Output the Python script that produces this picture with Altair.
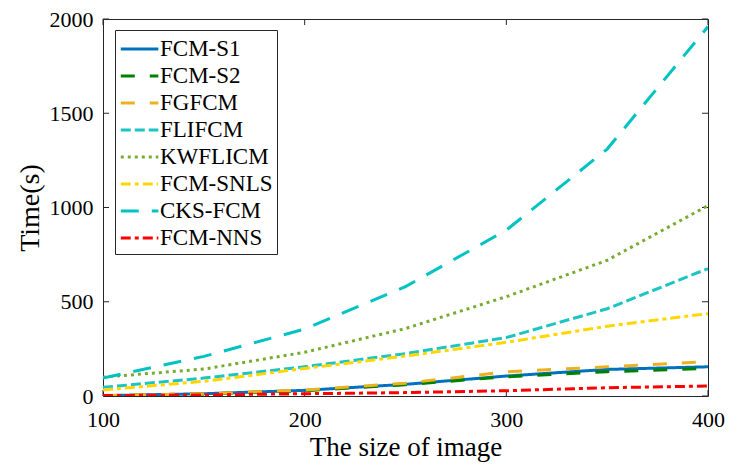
import altair as alt
import pandas as pd

# Image sizes on the x axis
sizes = [100, 150, 200, 250, 300, 350, 400]

# Running time (s) of each method
fcm_s1 = [2, 12, 30, 62, 106, 141, 155]
fcm_s2 = [2, 11, 28, 60, 102, 129, 146]
fgfcm = [3, 12, 32, 68, 128, 155, 182]
flifcm = [46, 95, 155, 225, 310, 463, 676]
kwflicm = [100, 143, 232, 358, 527, 720, 1010]
fcm_snls = [32, 78, 146, 212, 285, 370, 437]
cks_fcm = [95, 210, 355, 580, 880, 1310, 1960]
fcm_nns = [2, 6, 12, 18, 28, 44, 53]

methods = ["FCM-S1", "FCM-S2", "FGFCM", "FLIFCM", "KWFLICM", "FCM-SNLS", "CKS-FCM", "FCM-NNS"]
series = [fcm_s1, fcm_s2, fgfcm, flifcm, kwflicm, fcm_snls, cks_fcm, fcm_nns]

colors = ["#0072BD", "#008000", "#EDB120", "#1CC4C4", "#77AC30", "#FFD700", "#00C2C2", "#FF0000"]
dashes = [[1, 0], [14, 15], [14, 15], [10, 4], [3, 4], [10, 4, 4, 4], [18, 13], [10, 4, 4, 4]]

x_ticks = [100, 200, 300, 400]
y_ticks = [0, 500, 1000, 1500, 2000]

rows = []
for name, vals in zip(methods, series):
    for s, v in zip(sizes, vals):
        rows.append({"size": s, "time": v, "method": name})
df = pd.DataFrame(rows)

W, H = 605, 377
FONT = "Liberation Serif"
INK = "#262626"

xscale = alt.Scale(domain=[100, 400], nice=False)
yscale = alt.Scale(domain=[0, 2000], nice=False)

# legend swatch: a horizontal stroke longer than the row height
legend_opts = dict(title=None, orient="none", legendX=12, legendY=11,
                   symbolType="M-1,0H1.84", symbolSize=700, symbolStrokeWidth=3,
                   labelFont=FONT, labelFontSize=23, labelColor="black",
                   strokeColor=INK, fillColor="white", padding=4,
                   rowPadding=0, labelOffset=11, cornerRadius=0)

lines = alt.Chart(df).mark_line(strokeWidth=3, clip=True).encode(
    x=alt.X("size:Q", scale=xscale,
            axis=alt.Axis(values=x_ticks, title="The size of image", ticks=False, domain=False,
                          grid=False, labelPadding=13, titlePadding=4, labelFlush=False,
                          labelOverlap=False)),
    y=alt.Y("time:Q", scale=yscale,
            axis=alt.Axis(values=y_ticks, title="Time(s)", format="d", ticks=False, domain=False,
                          grid=False, labelPadding=10, titlePadding=5, labelFlush=False,
                          labelOverlap=False, titleFontSize=28)),
    color=alt.Color("method:N", sort=methods,
                    scale=alt.Scale(domain=methods, range=colors),
                    legend=alt.Legend(**legend_opts)),
    strokeDash=alt.StrokeDash("method:N", sort=methods,
                              scale=alt.Scale(domain=methods, range=dashes),
                              legend=alt.Legend(**legend_opts)),
    order=alt.Order("size:Q"),
)

xt = pd.DataFrame({"v": x_ticks})
yt = pd.DataFrame({"v": y_ticks})
TL = 6

bottom_ticks = alt.Chart(xt).mark_rule(color=INK, strokeWidth=1).encode(
    x=alt.X("v:Q", scale=xscale), y=alt.value(H), y2=alt.value(H - TL))
top_ticks = alt.Chart(xt).mark_rule(color=INK, strokeWidth=1).encode(
    x=alt.X("v:Q", scale=xscale), y=alt.value(0), y2=alt.value(TL))
left_ticks = alt.Chart(yt).mark_rule(color=INK, strokeWidth=1).encode(
    y=alt.Y("v:Q", scale=yscale), x=alt.value(0), x2=alt.value(TL))
right_ticks = alt.Chart(yt).mark_rule(color=INK, strokeWidth=1).encode(
    y=alt.Y("v:Q", scale=yscale), x=alt.value(W), x2=alt.value(W - TL))

chart = alt.layer(bottom_ticks, top_ticks, left_ticks, right_ticks, lines).properties(
    width=W, height=H,
    autosize=alt.AutoSizeParams(type="none"),
    padding={"left": 103, "top": 19, "right": 21, "bottom": 70},
    background="white",
).configure_view(
    stroke=INK, strokeWidth=1
).configure_axis(
    labelFont=FONT, labelFontSize=22, labelColor="black",
    titleFont=FONT, titleFontSize=27, titleFontWeight="normal", titleColor="black",
)

chart.save("out.html", embed_options={"renderer": "svg", "actions": False})
